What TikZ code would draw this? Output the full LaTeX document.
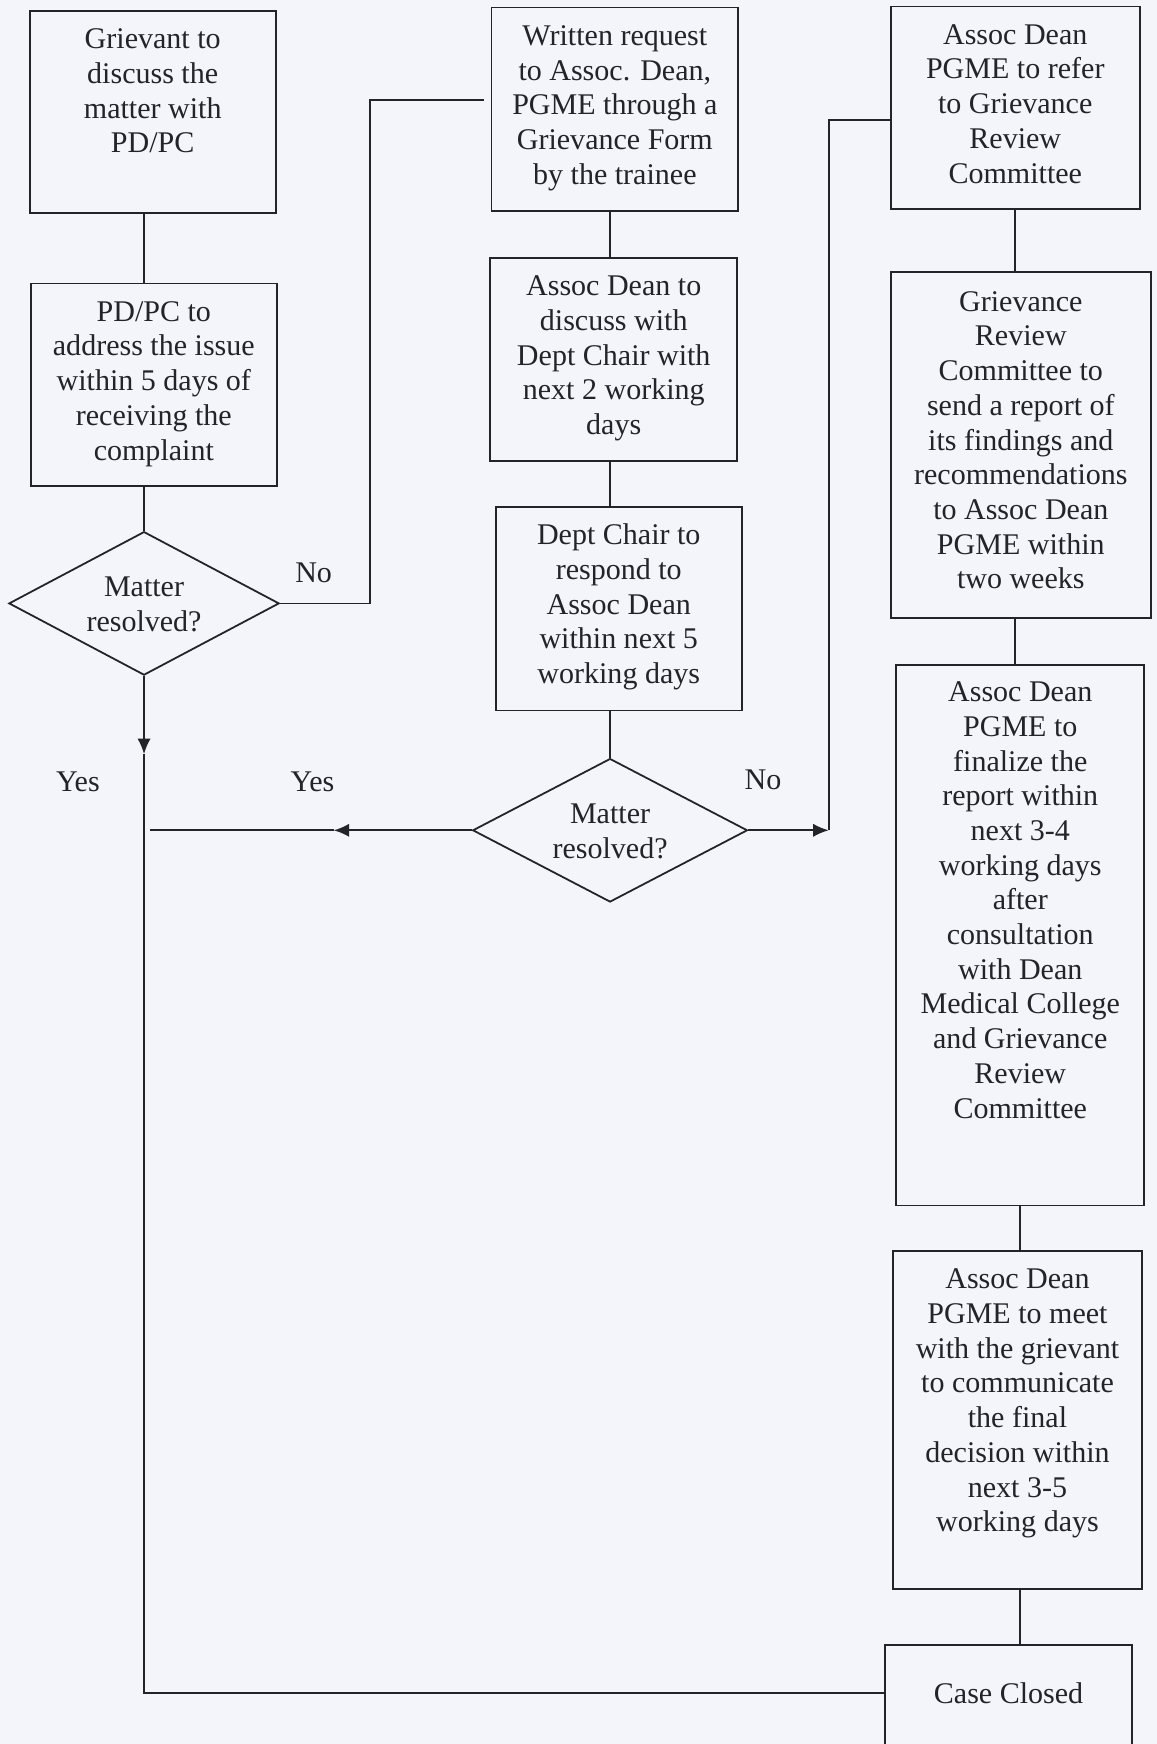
\documentclass[tikz,border=0pt]{standalone}
\usepackage{fontspec}
\setmainfont{Liberation Serif}
\usepackage{xcolor}
\usetikzlibrary{arrows.meta,calc,shapes.geometric}
\definecolor{paper}{RGB}{243,245,251}
\definecolor{ink}{RGB}{35,35,40}
\newlength\unitpx
\setlength\unitpx{0.5pt}
% box text: width, height, first baseline (px), lines
\newcommand{\boxtext}[4]{\parbox[c][#2\unitpx][t]{#1\unitpx}{\centering\rule{0pt}{#3\unitpx}#4}}
% diamond text, a little low
\newcommand{\asktext}[1]{\rule{0pt}{45\unitpx}\begin{tabular}{@{}c@{}}#1\end{tabular}}
\tikzset{
        block/.style = {draw=ink, rectangle, inner sep=0pt, anchor=north west, text=ink},
        decision/.style = {draw=ink, diamond, aspect=1.9, inner sep=0pt, text=ink},
        arrow/.style = {draw=ink, -{Latex[length=7pt,width=6pt]}},
        line/.style = {draw=ink},
        lbl/.style = {inner sep=0pt, text=ink},
        every node/.style = {font=\fontsize{13.5}{15.6}\selectfont},
    }

\begin{document}
\begin{tikzpicture}[x=0.5pt,y=0.5pt,yscale=-1,line width=0.8pt]
\useasboundingbox (0,0) rectangle (1040,1568);
\clip (0,0) rectangle (1040,1568);
\fill[paper] (0,0) rectangle (1040,1568);

% left column
\node[block] (grievant) at (26,9) {\boxtext{221}{182}{34}{Grievant to\\discuss the\\matter with\\PD/PC}};
\node[block] (pdpc) at (27,254) {\boxtext{221}{182}{34}{PD/PC to\\address the issue\\within 5 days of\\receiving the\\complaint}};
\node[decision, minimum width=243\unitpx, minimum height=129\unitpx] (d1) at (129.5,542.5) {\asktext{Matter\\resolved?}};

% middle column
\node[block] (written) at (441,6) {\boxtext{222}{183}{34}{Written request\\to Assoc. Dean,\\PGME through a\\Grievance Form\\by the trainee}};
\node[block] (discuss) at (440,231) {\boxtext{222}{183}{34}{Assoc Dean to\\discuss with\\Dept Chair with\\next 2 working\\days}};
\node[block] (respond) at (445,455) {\boxtext{221}{183}{34}{Dept Chair to\\respond to\\Assoc Dean\\within next 5\\working days}};
\node[decision, minimum width=247\unitpx, minimum height=129\unitpx] (d2) at (548.5,746.5) {\asktext{Matter\\resolved?}};

% right column
\node[block] (refer) at (800,5) {\boxtext{224}{182}{34}{Assoc Dean\\PGME to refer\\to Grievance\\Review\\Committee}};
\node[block] (report) at (800,244) {\boxtext{234}{311}{35}{Grievance\\Review\\Committee to\\send a report of\\its findings and\\recommendations\\to Assoc Dean\\PGME within\\two weeks}};
\node[block] (finalize) at (805,597) {\boxtext{223}{486}{33}{Assoc Dean\\PGME to\\finalize the\\report within\\next 3-4\\working days\\after\\consultation\\with Dean\\Medical College\\and Grievance\\Review\\Committee}};
\node[block] (meet) at (802,1124) {\boxtext{224}{304}{34}{Assoc Dean\\PGME to meet\\with the grievant\\to communicate\\the final\\decision within\\next 3-5\\working days}};
\node[block] (closed) at (795,1478) {\boxtext{222}{120}{53}{Case Closed}};

% Text Node
\node[lbl] (noleft) at (282,515) {No};
\node[lbl] (yesleft) at (70,703) {Yes};
\node[lbl] (yesmiddle) at (281,703) {Yes};
\node[lbl] (noright) at (686,701) {No};

\coordinate (nobend) at (333,90);
\coordinate (yestip) at (129.5,678);
\coordinate (yesend) at (129.5,1522);
\coordinate (yesmid) at (300,746.5);
\coordinate (yesjoin) at (135,746.5);
\coordinate (notip) at (745,746.5);
\coordinate (nocorner) at (745,108);

% connectors
\draw[line] (grievant.south -| d1.north) -- (pdpc.north -| d1.north);
\draw[line] (pdpc.south -| d1.north) -- (d1.north);
\draw[line, shorten >=3pt] (d1.east) -| (nobend) -- (nobend -| written.west);
\draw[arrow] (d1.south) -- (yestip);
\draw[line] (yestip) -- (yesend) -- (yesend -| closed.west);

\draw[line] (written.south -| d2.north) -- (discuss.north -| d2.north);
\draw[line] (discuss.south -| d2.north) -- (respond.north -| d2.north);
\draw[line] (respond.south -| d2.north) -- (d2.north);
\draw[arrow] (d2.west) -- (yesmid);
\draw[line] (yesmid) -- (yesjoin);
\draw[arrow] (d2.east) -- (notip);
\draw[line] (notip) -- (nocorner) -- (nocorner -| refer.west);

\draw[line] (refer.south) -- (refer.south |- report.north);
\draw[line] (report.south -| refer.south) -- (finalize.north -| refer.south);
\draw[line] (finalize.south) -- (finalize.south |- meet.north);
\draw[line] (meet.south -| finalize.south) -- (closed.north -| finalize.south);

\end{tikzpicture}
\end{document}
